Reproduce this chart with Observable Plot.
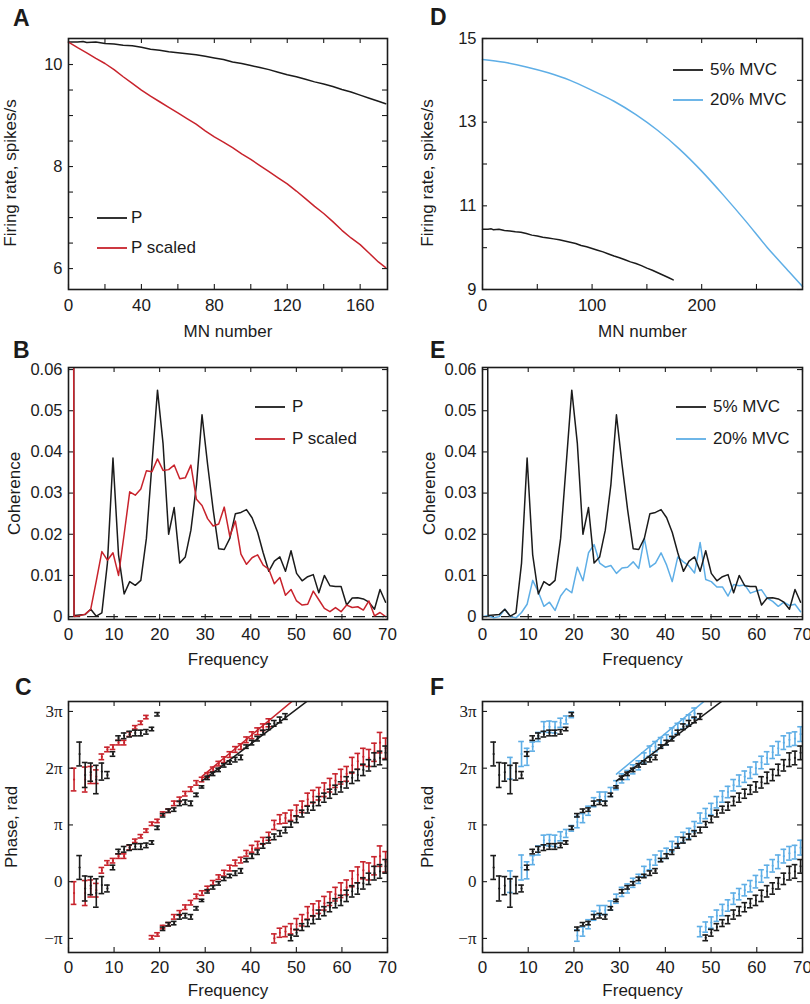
<!DOCTYPE html>
<html><head><meta charset="utf-8">
<script src="https://cdn.jsdelivr.net/npm/d3@7"></script>
<script src="https://cdn.jsdelivr.net/npm/@observablehq/plot@0.6"></script>
<style>
body{margin:0;background:#fff;}
#fig{position:relative;width:810px;height:1004px;font-family:"Liberation Sans",Arial,Helvetica,sans-serif;color:#1b1b1b;}
#fig svg.plot{position:absolute;overflow:visible;}
.letter{position:absolute;font-weight:bold;font-size:23px;line-height:22px;}
.leg{position:absolute;font-size:17px;line-height:18px;height:18px;display:flex;align-items:center;white-space:nowrap;}
.leg svg{display:block;}
</style></head><body><div id="fig"></div>
<script>
const INK = "#1b1b1b", RED = "#c8232c", BLUE = "#5eaee6";
const FONT = '"Liberation Sans", Arial, Helvetica, sans-serif';

// ---------- Panels A / D : firing rate vs MN number ----------
const mnP = [0,5,8,10,15,20,25,30,35,40,45,50,55,60,65,70,75,80,85,90,95,100,105,110,115,120,125,130,135,140,145,150,155,160,165,170,174];
const rateP = [10.44,10.44,10.45,10.43,10.44,10.41,10.40,10.38,10.37,10.34,10.30,10.28,10.25,10.23,10.21,10.19,10.16,10.13,10.10,10.05,10.02,9.98,9.94,9.90,9.85,9.80,9.76,9.71,9.66,9.62,9.57,9.51,9.46,9.40,9.34,9.28,9.23];
const mnScaled = [0,5,10,15,20,25,30,35,40,45,50,55,60,65,70,75,80,85,90,95,100,105,110,115,120,125,130,135,140,145,150,155,160,165,170,174];
const rateScaled = [10.44,10.33,10.23,10.12,10.02,9.90,9.76,9.63,9.50,9.38,9.27,9.16,9.05,8.94,8.83,8.70,8.58,8.48,8.37,8.25,8.14,8.02,7.90,7.78,7.66,7.52,7.37,7.22,7.08,6.92,6.75,6.60,6.47,6.30,6.13,6.02];
const mn20 = [0,20,40,60,80,100,120,140,160,180,200,220,240,260,280,292];
const rate20 = [14.50,14.43,14.32,14.18,14.00,13.76,13.50,13.18,12.80,12.35,11.83,11.25,10.64,10.00,9.42,9.07];

// ---------- Panels B / E : coherence ----------
const freq = [0,1.22,2.44,3.66,4.88,6.10,7.32,8.54,9.76,10.98,12.21,13.43,14.65,15.87,17.09,18.31,19.53,20.75,21.97,23.19,24.41,25.63,26.86,28.08,29.30,30.52,31.74,32.96,34.18,35.40,36.62,37.84,39.06,40.28,41.50,42.72,43.95,45.17,46.39,47.61,48.83,50.05,51.27,52.49,53.71,54.93,56.15,57.37,58.59,59.81,61.04,62.26,63.48,64.70,65.92,67.14,68.36,69.58];
const cohP = [1.0,0.0003,0.0004,0.0005,0.0018,0.0001,0.0009,0.013,0.0385,0.015,0.0055,0.0085,0.0076,0.0088,0.019,0.037,0.055,0.042,0.020,0.0265,0.013,0.0145,0.021,0.032,0.049,0.037,0.026,0.0165,0.0163,0.019,0.025,0.0253,0.026,0.024,0.0205,0.0155,0.011,0.0135,0.0145,0.011,0.016,0.0105,0.0087,0.0097,0.0102,0.0058,0.010,0.0075,0.0073,0.0073,0.0028,0.0045,0.0046,0.0043,0.0035,0.0018,0.0066,0.0035];
const cohScaled = [1.0,0.0,0.0002,0.0006,0.0018,0.0087,0.0158,0.0137,0.0155,0.0100,0.020,0.0303,0.0295,0.031,0.0354,0.0352,0.0383,0.0355,0.0357,0.0368,0.0335,0.0337,0.0368,0.0285,0.027,0.0238,0.022,0.0225,0.0266,0.0195,0.0232,0.0152,0.0127,0.0143,0.0150,0.0125,0.0115,0.0080,0.0095,0.0052,0.0066,0.0038,0.0028,0.0030,0.0062,0.0041,0.0020,0.0012,0.0022,0.0012,0.0028,0.0022,0.0024,0.0016,0.0038,0.0002,0.0010,0.0000];
const coh20 = [0.0,0.0003,-0.0003,0.0,0.0018,0.0,-0.0003,0.001,0.003,0.0088,0.006,0.0025,0.0035,0.0015,0.005,0.0068,0.0058,0.012,0.0087,0.0155,0.0175,0.013,0.012,0.0124,0.0105,0.0118,0.012,0.0133,0.0117,0.019,0.012,0.013,0.0155,0.0125,0.0085,0.0145,0.0133,0.0123,0.0106,0.018,0.009,0.0085,0.0072,0.0072,0.005,0.0078,0.0075,0.0077,0.0057,0.0062,0.0065,0.0045,0.0037,0.0025,0.0035,0.0027,0.0030,0.0012];

// ---------- Panels C / F : phase (units of pi, wrapped to [-pi, pi]) ----------
const phaseP = [null,null,0.25,-0.12,-0.07,-0.20,-0.06,-0.12,0.25,0.53,0.57,0.60,0.62,0.62,0.64,0.69,0.95,-0.83,-0.75,-0.73,-0.62,-0.60,-0.62,-0.47,-0.33,-0.17,-0.10,-0.03,0.05,0.10,0.15,0.19,0.38,0.45,0.52,0.63,0.73,0.79,0.85,0.91,-0.99,-0.90,-0.80,-0.73,-0.67,-0.58,-0.52,-0.45,-0.38,-0.33,-0.25,-0.17,-0.12,-0.03,0.05,0.15,0.18,0.27];
const errP = [0,0,0.21,0.22,0.16,0.25,0.15,0.06,0.04,0.04,0.05,0.05,0.05,0.05,0.04,0.03,0.03,0.03,0.03,0.03,0.04,0.04,0.04,0.03,0.02,0.03,0.03,0.03,0.03,0.03,0.04,0.04,0.03,0.04,0.04,0.04,0.05,0.05,0.05,0.05,0.05,0.06,0.06,0.06,0.07,0.08,0.08,0.08,0.08,0.09,0.10,0.10,0.10,0.10,0.10,0.12,0.12,0.12];
const phaseScaled = [null,-0.20,null,-0.20,-0.12,-0.15,0.20,0.33,0.37,0.45,0.45,0.60,0.72,0.80,0.90,-0.98,-0.93,-0.80,-0.75,-0.62,-0.55,-0.45,-0.37,-0.26,-0.20,-0.12,-0.02,0.08,0.15,0.24,0.33,0.38,0.50,0.58,0.65,0.72,0.80,-1.00,-0.90,-0.88,-0.83,-0.75,-0.68,-0.55,-0.50,-0.45,-0.38,-0.30,-0.22,-0.15,-0.10,0.05,0.12,0.20,0.18,0.28,0.45,0.35];
const errScaled = [0,0.20,0,0.22,0.15,0.12,0.05,0.04,0.04,0.04,0.04,0.04,0.03,0.03,0.03,0.03,0.03,0.03,0.03,0.04,0.04,0.04,0.04,0.04,0.04,0.04,0.04,0.04,0.05,0.05,0.05,0.05,0.05,0.06,0.06,0.06,0.07,0.08,0.08,0.09,0.09,0.10,0.10,0.11,0.11,0.11,0.12,0.12,0.12,0.13,0.13,0.14,0.14,0.15,0.15,0.16,0.18,0.18];
const phase20 = [null,null,null,null,null,0.00,null,0.25,0.20,0.38,0.55,0.73,0.73,0.72,0.80,0.85,0.94,-0.95,-0.88,-0.75,-0.60,-0.50,-0.50,-0.42,-0.30,-0.18,-0.12,-0.02,0.05,0.18,0.30,0.38,0.45,0.50,0.62,0.70,0.78,0.85,0.97,-0.88,-0.80,-0.72,-0.60,-0.50,-0.42,-0.30,-0.22,-0.15,-0.08,0.00,0.10,0.18,0.28,0.35,0.45,0.50,0.52,0.60];
const err20 = [0,0,0,0,0,0.19,0,0.22,0.15,0.08,0.08,0.09,0.10,0.10,0.08,0.07,0.05,0.10,0.08,0.08,0.08,0.08,0.08,0.08,0.08,0.08,0.08,0.08,0.08,0.09,0.09,0.09,0.09,0.09,0.09,0.09,0.09,0.09,0.09,0.09,0.09,0.10,0.10,0.10,0.10,0.10,0.10,0.10,0.10,0.11,0.11,0.11,0.11,0.12,0.12,0.12,0.12,0.13];
// linear phase fits (upper copy)
const fitF = [29.3, 60];
const fitP = [1.775, 3.645];
const fitScaled = [1.856, 3.91];
const fit20 = [1.895, 3.95];

// ---------- tick labels ----------
const piLabels = {"-1": "\u2212\u03c0", "0": "0", "1": "\u03c0", "2": "2\u03c0", "3": "3\u03c0"};

const fig = document.getElementById("fig");
const TL = 5;

function series(xs, ys) { return xs.map((x, i) => ({x, y: ys[i]})); }
function bars(ph, er) {
  const out = [];
  freq.forEach((f, i) => {
    if (ph[i] == null) return;
    for (const k of [0, 2]) out.push({f, y: ph[i] + k, lo: ph[i] + k - er[i], hi: ph[i] + k + er[i]});
  });
  return out;
}
function errMarks(rows, color) {
  const o = {stroke: color, strokeWidth: 1.6, clip: true};
  return [
    Plot.ruleX(rows, {x: "f", y1: "lo", y2: "hi", ...o}),
    Plot.ruleY(rows, {y: "hi", x1: d => d.f - 0.62, x2: d => d.f + 0.62, ...o}),
    Plot.ruleY(rows, {y: "lo", x1: d => d.f - 0.62, x2: d => d.f + 0.62, ...o}),
    Plot.dot(rows, {x: "f", y: "y", r: 1.1, fill: color, stroke: null, clip: true})
  ];
}

function panel(cfg) {
  const W = 405;
  const innerW = W - cfg.ml - cfg.mr, innerH = cfg.h - cfg.mt - cfg.mb;
  const svg = Plot.plot({
    width: W, height: cfg.h,
    marginLeft: cfg.ml, marginRight: cfg.mr, marginTop: cfg.mt, marginBottom: cfg.mb,
    style: {fontFamily: FONT, fontSize: "16px", background: "none", color: INK, overflow: "visible"},
    x: {domain: cfg.xd}, y: {domain: cfg.yd},
    marks: [
      ...cfg.marks,
      Plot.tickX(cfg.xt, {x: d => d, insetTop: innerH - TL, stroke: INK, strokeWidth: 1.1}),
      Plot.tickX(cfg.xt, {x: d => d, insetBottom: innerH - TL, stroke: INK, strokeWidth: 1.1}),
      Plot.tickY(cfg.yt, {y: d => d, insetRight: innerW - TL, stroke: INK, strokeWidth: 1.1}),
      Plot.tickY(cfg.yt, {y: d => d, insetLeft: innerW - TL, stroke: INK, strokeWidth: 1.1}),
      Plot.axisX(cfg.xl, {tickSize: 0, tickPadding: cfg.xpad, fontSize: 17, tickFormat: d => String(d), label: null, fill: INK}),
      Plot.axisY(cfg.yl, {tickSize: 0, tickPadding: 6, fontSize: cfg.yFontSize || 16.5, fontFamily: cfg.yFont || FONT, tickFormat: cfg.yfmt || (d => String(d)), label: null, fill: INK}),
      Plot.text([cfg.ylabel], {text: d => d, frameAnchor: "left", textAnchor: "middle", lineAnchor: "middle", rotate: -90, dx: cfg.ydx, dy: cfg.ydy, fontSize: 17, fill: INK}),
      Plot.text([cfg.xlabel], {text: d => d, frameAnchor: "bottom", textAnchor: "middle", lineAnchor: "middle", dy: cfg.xdy, fontSize: 17, fill: INK}),
      Plot.frame({stroke: INK, strokeWidth: 1.6})
    ]
  });
  svg.classList.add("plot");
  svg.style.left = cfg.left + "px";
  svg.style.top = cfg.top + "px";
  fig.appendChild(svg);
}

const rows = [
  {top: 0, h: 340, mt: 38, mb: 51, xpad: 9, xdy: 42},
  {top: 340, h: 332, mt: 27, mb: 53, xpad: 8, xdy: 40},
  {top: 672, h: 332, mt: 29, mb: 52, xpad: 8, xdy: 38.5}
];
const colL = {left: 0, ml: 68, mr: 18};
const colR = {left: 405, ml: 77, mr: 8};
const freqTicks = [0,10,20,30,40,50,60,70];
const cohTicks = [0,0.01,0.02,0.03,0.04,0.05,0.06];
const cohFmt = d => d === 0 ? "0" : d.toFixed(2);
const serif = '"Liberation Serif", "Times New Roman", serif';

// A
panel({...colL, ...rows[0], xd: [0, 175], yd: [5.59, 10.51],
  xt: [0,20,40,60,80,100,120,140,160], xl: [0,40,80,120,160],
  yt: [6,6.5,7,7.5,8,8.5,9,9.5,10], yl: [6,8,10],
  ylabel: "Firing rate, spikes/s", ydx: -57.5, ydy: 9, xlabel: "MN number",
  marks: [
    Plot.line(series(mnP, rateP), {x: "x", y: "y", stroke: INK, strokeWidth: 1.5}),
    Plot.line(series(mnScaled, rateScaled), {x: "x", y: "y", stroke: RED, strokeWidth: 1.5})
  ]});
// D
panel({...colR, ...rows[0], xd: [0, 292], yd: [9, 15],
  xt: [0,50,100,150,200,250], xl: [0,100,200],
  yt: [9,10,11,12,13,14,15], yl: [9,11,13,15],
  ylabel: "Firing rate, spikes/s", ydx: -55.3, ydy: 9, xlabel: "MN number",
  marks: [
    Plot.line(series(mnP, rateP), {x: "x", y: "y", stroke: INK, strokeWidth: 1.5}),
    Plot.line(series(mn20, rate20), {x: "x", y: "y", stroke: BLUE, strokeWidth: 1.5, curve: "monotone-x"})
  ]});
// B
panel({...colL, ...rows[1], xd: [0, 70], yd: [-0.0007, 0.0605],
  xt: freqTicks, xl: freqTicks, yt: cohTicks, yl: cohTicks, yfmt: cohFmt,
  ylabel: "Coherence", ydx: -54, ydy: 0, xlabel: "Frequency",
  marks: [
    Plot.ruleY([0], {stroke: INK, strokeWidth: 1.3, strokeDasharray: "12,7"}),
    Plot.line(series(freq, cohP), {x: "x", y: "y", stroke: INK, strokeWidth: 1.5, clip: true}),
    Plot.line(series(freq, cohScaled), {x: "x", y: "y", stroke: RED, strokeWidth: 1.5, clip: true})
  ]});
// E
panel({...colR, ...rows[1], xd: [0, 70], yd: [-0.0007, 0.0605],
  xt: freqTicks, xl: freqTicks, yt: cohTicks, yl: cohTicks, yfmt: cohFmt,
  ylabel: "Coherence", ydx: -52.5, ydy: 0, xlabel: "Frequency",
  marks: [
    Plot.ruleY([0], {stroke: INK, strokeWidth: 1.3, strokeDasharray: "12,7"}),
    Plot.line(series(freq, coh20), {x: "x", y: "y", stroke: BLUE, strokeWidth: 1.5, clip: true}),
    Plot.line(series(freq, cohP), {x: "x", y: "y", stroke: INK, strokeWidth: 1.5, clip: true})
  ]});
// C
panel({...colL, ...rows[2], xd: [0, 70], yd: [-1.248, 3.175],
  xt: freqTicks, xl: freqTicks,
  yt: [-1,0,1,2,3], yl: [-1,0,1,2,3], yfmt: d => piLabels[d], yFont: serif, yFontSize: 17,
  ylabel: "Phase, rad", ydx: -57, ydy: 0, xlabel: "Frequency",
  marks: [
    ...errMarks(bars(phaseScaled, errScaled), RED),
    ...errMarks(bars(phaseP, errP), INK),
    Plot.line(series(fitF, fitScaled), {x: "x", y: "y", stroke: RED, strokeWidth: 1.5, clip: true}),
    Plot.line(series(fitF, fitP), {x: "x", y: "y", stroke: INK, strokeWidth: 1.5, clip: true})
  ]});
// F
panel({...colR, ...rows[2], xd: [0, 70], yd: [-1.248, 3.175],
  xt: freqTicks, xl: freqTicks,
  yt: [-1,0,1,2,3], yl: [-1,0,1,2,3], yfmt: d => piLabels[d], yFont: serif, yFontSize: 17,
  ylabel: "Phase, rad", ydx: -55.3, ydy: 0, xlabel: "Frequency",
  marks: [
    ...errMarks(bars(phase20, err20), BLUE),
    ...errMarks(bars(phaseP, errP), INK),
    Plot.line(series(fitF, fit20), {x: "x", y: "y", stroke: BLUE, strokeWidth: 1.5, clip: true}),
    Plot.line(series(fitF, fitP), {x: "x", y: "y", stroke: INK, strokeWidth: 1.5, clip: true})
  ]});

// panel letters
const letters = [["A",13,7],["D",430,6],["B",13,339],["E",430,339],["C",15,676],["F",430,676]];
for (const [t, x, y] of letters) {
  const d = document.createElement("div");
  d.className = "letter"; d.textContent = t; d.style.left = x + "px"; d.style.top = y + "px";
  fig.appendChild(d);
}
// legends
const legends = [
  ["P", INK, 97, 218, 4], ["P scaled", RED, 97, 248, 4],
  ["5% MVC", INK, 673, 70, 7], ["20% MVC", BLUE, 673, 100, 7],
  ["P", INK, 255, 407, 7], ["P scaled", RED, 255, 439, 7],
  ["5% MVC", INK, 676, 407, 7], ["20% MVC", BLUE, 676, 439, 7]
];
const NS = "http://www.w3.org/2000/svg";
for (const [t, c, x, y, g] of legends) {
  const d = document.createElement("div");
  d.className = "leg"; d.style.left = x + "px"; d.style.top = (y - 9) + "px";
  const s = document.createElementNS(NS, "svg");
  s.setAttribute("width", 30); s.setAttribute("height", 6);
  s.style.marginRight = g + "px";
  const l = document.createElementNS(NS, "line");
  l.setAttribute("x1", 0); l.setAttribute("x2", 30); l.setAttribute("y1", 3); l.setAttribute("y2", 3);
  l.setAttribute("stroke", c); l.setAttribute("stroke-width", 1.8);
  s.appendChild(l);
  d.appendChild(s); d.appendChild(document.createTextNode(t));
  fig.appendChild(d);
}
</script></body></html>
